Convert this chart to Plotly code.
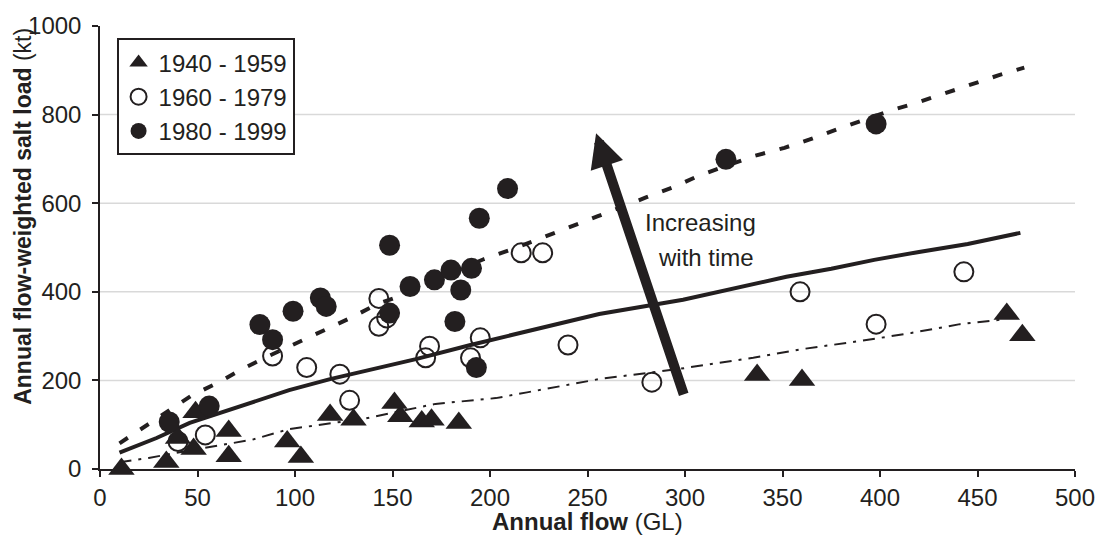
import plotly.graph_objects as go

# ---------------- data ----------------
x_ticks = [0, 50, 100, 150, 200, 250, 300, 350, 400, 450, 500]
y_ticks = [0, 200, 400, 600, 800, 1000]

legend_labels = ["1940 - 1959", "1960 - 1979", "1980 - 1999"]

# 1940 - 1959 (filled triangles)
flow_4059 = [11, 34, 40, 48, 49, 66, 66, 96, 103, 118, 130, 151, 154, 165, 170, 184, 337, 360, 465, 473]
load_4059 = [0, 16, 70, 45, 128, 86, 29, 62, 27, 122, 111, 149, 119, 107, 111, 104, 212, 201, 350, 302]

# 1960 - 1979 (open circles)
flow_6079 = [40, 54, 88.5, 106, 123, 128, 143, 143, 147, 167, 169, 190, 195, 216, 227, 240, 283, 359, 398, 443]
load_6079 = [62, 77, 255, 229, 214, 155, 385, 322, 341, 251, 277, 251, 296, 488, 488, 280, 196, 400, 327, 445]

# 1980 - 1999 (filled circles)
flow_8099 = [35.5, 56, 82, 88.5, 99, 113, 116, 148.5, 148.5, 159, 171.5, 180, 190.5, 185, 182, 194.5, 209, 193, 321, 398]
load_8099 = [106, 142, 326, 292, 356, 386, 367, 505, 352, 412, 427, 449, 453, 404, 333, 566, 633, 229, 699, 779]

# fitted relationship, whole record (solid)
fit_all_x = [10, 29, 46, 63, 80, 97, 118, 140, 162, 190, 220, 256, 299, 325, 352, 375, 397, 420, 445, 472]
fit_all_y = [37, 70, 104, 129, 155, 178, 203, 225, 248, 280, 311, 350, 382, 408, 434, 452, 472, 490, 508, 533]

# fitted relationship 1980-1999 (dashed)
fit_8099_x = [10, 24, 35, 47, 61, 73, 87, 101, 115, 129, 142, 155, 175, 197, 212, 235, 255, 280, 294, 307,
              335, 351, 364, 378, 406, 419, 434, 447, 461, 474]
fit_8099_y = [58, 99, 133, 166, 196, 226, 256, 285, 313, 342, 372, 392, 433, 474, 497, 535, 570, 613, 636, 662,
              706, 725, 744, 767, 810, 827, 849, 870, 889, 906]

# fitted relationship 1940-1959 (dash-dot)
fit_4059_x = [10, 25, 50, 78, 97, 136, 172, 203, 219, 256, 297, 335, 359, 390, 416, 441, 462]
fit_4059_y = [15, 25, 45, 66, 90, 114, 147, 160, 173, 203, 226, 251, 270, 289, 307, 327, 337]

# arrow annotation (tail -> head) and its label
arrow_tail = (299.6, 165)
arrow_head = (254.4, 758)
label_lines = ["Increasing", "with time"]
label_pos = [(308, 557), (311, 478)]

# ---------------- style ----------------
INK = "#231f20"
GRID = "#d9d9d9"
FONT = "Liberation Sans, Arial, sans-serif"

fig = go.Figure()

fig.add_trace(go.Scatter(x=fit_4059_x, y=fit_4059_y, mode="lines", showlegend=False,
                         line=dict(color=INK, width=2, dash="12px,7px,3px,7px"), hoverinfo="skip"))
fig.add_trace(go.Scatter(x=fit_all_x, y=fit_all_y, mode="lines", showlegend=False,
                         line=dict(color=INK, width=4), hoverinfo="skip"))
fig.add_trace(go.Scatter(x=fit_8099_x, y=fit_8099_y, mode="lines", showlegend=False,
                         line=dict(color=INK, width=4, dash="10px,15px"), hoverinfo="skip"))

fig.add_trace(go.Scatter(x=flow_6079, y=load_6079, mode="markers", name=legend_labels[1], legendrank=2,
                         cliponaxis=False,
                         marker=dict(symbol="circle-open", size=19, color=INK, line=dict(width=2, color=INK))))
fig.add_trace(go.Scatter(x=flow_4059, y=load_4059, mode="markers", name=legend_labels[0], legendrank=1,
                         cliponaxis=False,
                         marker=dict(symbol="triangle-up", size=23, color=INK, line=dict(width=0))))
fig.add_trace(go.Scatter(x=flow_8099, y=load_8099, mode="markers", name=legend_labels[2], legendrank=3,
                         cliponaxis=False,
                         marker=dict(symbol="circle", size=21, color=INK, line=dict(width=0))))

for v in y_ticks[1:-1]:
    fig.add_hline(y=v, line=dict(color=GRID, width=1.5), layer="below")

annotations = [
    dict(x=arrow_head[0], y=arrow_head[1], ax=arrow_tail[0], ay=arrow_tail[1],
         xref="x", yref="y", axref="x", ayref="y", text="", showarrow=True,
         arrowhead=2, arrowwidth=10, arrowsize=0.68, arrowcolor=INK, standoff=0),
    dict(x=0.5, y=-0.1186, xref="paper", yref="paper", xanchor="center", yanchor="middle",
         showarrow=False, text="<b>Annual flow</b> (GL)", font=dict(size=24, color=INK, family=FONT)),
    dict(x=-0.0797, y=1.0, xref="paper", yref="paper", xanchor="center", yanchor="top",
         textangle=-90, showarrow=False, text="<b>Annual flow-weighted salt load</b> (kt)",
         font=dict(size=23, color=INK, family=FONT)),
]
for t, (lx, ly) in zip(label_lines, label_pos):
    annotations.append(dict(x=lx, y=ly, xref="x", yref="y", text=t, showarrow=False,
                            xanchor="center", yanchor="middle",
                            font=dict(size=24, color=INK, family=FONT)))

fig.update_layout(
    width=1107, height=541, autosize=False,
    margin=dict(l=100, r=28, t=22, b=72, pad=0),
    paper_bgcolor="white", plot_bgcolor="white",
    font=dict(family=FONT, size=24, color=INK),
    showlegend=True,
    legend=dict(x=0.017, y=0.972, xanchor="left", yanchor="top",
                bgcolor="white", bordercolor=INK, borderwidth=2,
                font=dict(size=24, color=INK, family=FONT), traceorder="normal"),
    annotations=annotations,
    xaxis=dict(range=[0, 500], tickvals=x_ticks, ticks="outside", ticklen=6, tickwidth=1.5,
               tickcolor=INK, showline=True, linecolor=INK, linewidth=1.5, showgrid=False,
               zeroline=False, tickfont=dict(size=24, color=INK, family=FONT)),
    yaxis=dict(range=[0, 1000], tickvals=y_ticks, ticks="outside", ticklen=6, tickwidth=1.5,
               tickcolor=INK, showline=True, linecolor=INK, linewidth=1.5, showgrid=False,
               zeroline=False, ticklabelstandoff=6, tickfont=dict(size=24, color=INK, family=FONT)),
)

fig.write_html("out.html", config={"displayModeBar": False},
               post_script="document.body.style.margin='0';")
